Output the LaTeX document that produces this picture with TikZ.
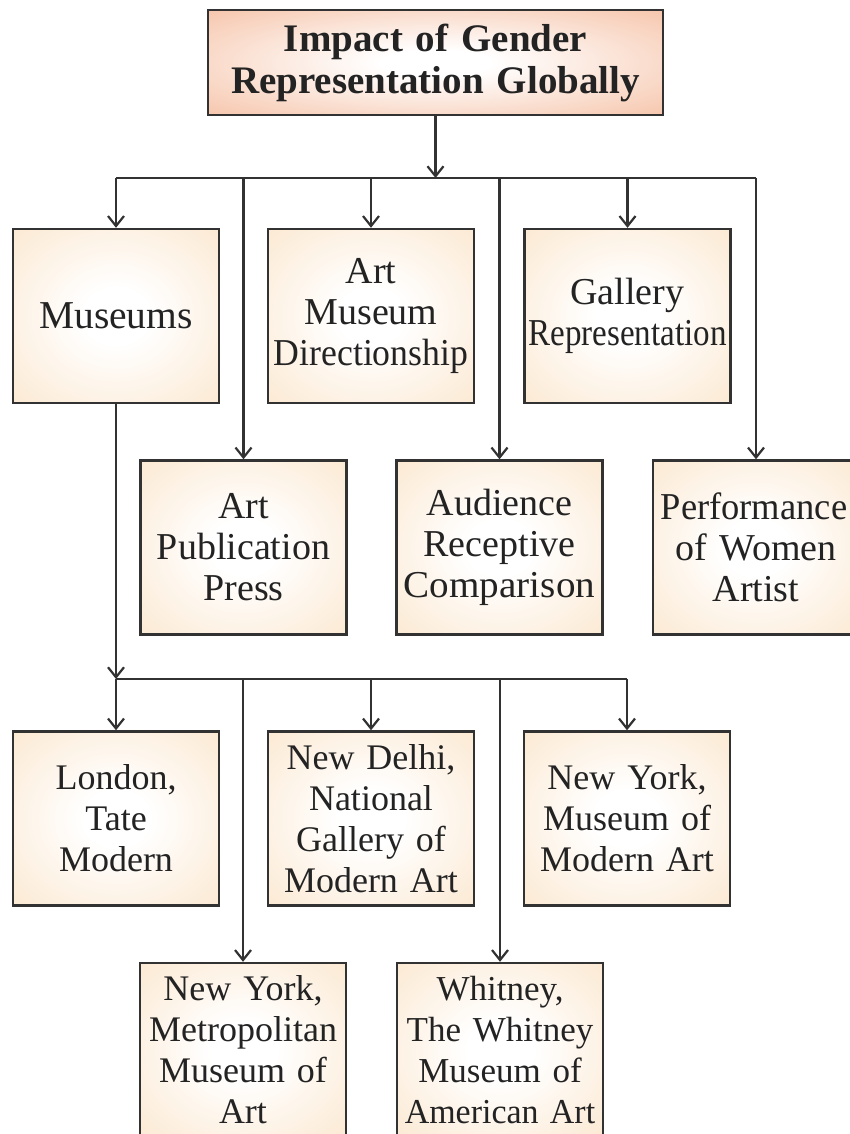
\documentclass[tikz,border=0pt]{standalone}
\usepackage{fontspec}
\setmainfont{Liberation Serif}
\usetikzlibrary{arrows.meta}
\definecolor{peach}{RGB}{250,222,188}
\definecolor{salmon}{RGB}{242,170,132}
\definecolor{ink}{RGB}{50,50,50}
\pgfdeclareradialshading{boxshade}{\pgfpoint{0bp}{0bp}}{color(0bp)=(white); color(8bp)=(white); color(50bp)=(peach); color(75bp)=(peach)}
\pgfdeclareradialshading{titleshade}{\pgfpoint{0bp}{0bp}}{color(0bp)=(white); color(6bp)=(white); color(50bp)=(salmon); color(75bp)=(salmon)}
\tikzset{
  box/.style={draw=ink, line width=2.4pt, shading=boxshade, minimum width=206pt, minimum height=174pt,
    text width=204pt, align=center, inner sep=0pt, text=ink!70!black,
    font=\fontsize{36}{41}\selectfont},
  bigbox/.style={box, font=\fontsize{38}{41}\selectfont},
  titlebox/.style={draw=ink, line width=2.4pt, shading=titleshade, minimum width=455pt, minimum height=105pt,
    text width=450pt, align=center, inner sep=0pt, text=ink!70!black,
    font=\fontsize{39}{42}\selectfont\bfseries},
  conn/.style={draw=ink, line width=2.2pt},
  arr/.style={conn, -{Straight Barb[length=10pt,width=16pt,line width=2.2pt]}}
}
\begin{document}
\begin{tikzpicture}[x=1pt,y=-1pt]
\useasboundingbox (0,0) rectangle (850,1134);
\clip (0,0) rectangle (850,1134);
\node[titlebox] (title) at (435.5,62.5) {Impact of Gender\\Representation Globally};
% row 1
\node[box, font=\fontsize{39.5}{41}\selectfont] (museums) at (116,316) {Museums};
\node[bigbox] (artmus) at (371,316) {Art\\Museum\\\scalebox{0.94}[1]{Directionship}};
\node[bigbox] (gallery) at (627.5,316) {Gallery\\\scalebox{0.87}[1]{Representation}};
% row 2
\node[bigbox] (artpub) at (243.5,547.5) {Art\\Publication\\Press};
\node[bigbox] (audience) at (499.5,547.5) {Audience\\Receptive\\\scalebox{1.03}[1]{Comparison}};
\node[bigbox] (perf) at (756,547.5) {\hspace*{-4pt}\scalebox{0.96}[1]{Performance}\\of Women\\Artist};
% row 3
\node[box] (london) at (116,818.5) {London,\\Tate\\Modern};
\node[box] (delhi) at (371,818.5) {New Delhi,\\National\\Gallery of\\Modern Art};
\node[box] (moma) at (627,818.5) {New York,\\Museum of\\Modern Art};
% row 4
\node[box] (met) at (243,1050) {New York,\\Metropolitan\\Museum of\\Art};
\node[box, font=\fontsize{35}{41}\selectfont] (whitney) at (500,1050) {Whitney,\\The Whitney\\Museum of\\\scalebox{0.97}[1]{American Art}};
% connectors level 1
\coordinate (bar1) at (435.5,178);
\draw[arr] (title.south) -- (bar1);
\draw[conn] (bar1 -| museums.north) -- (bar1 -| perf.north);
\draw[arr] (bar1 -| museums.north) -- (museums.north);
\draw[arr] (bar1 -| artpub.north) -- (artpub.north);
\draw[arr] (bar1 -| artmus.north) -- (artmus.north);
\draw[arr] (bar1 -| audience.north) -- (audience.north);
\draw[arr] (bar1 -| gallery.north) -- (gallery.north);
\draw[arr] (bar1 -| perf.north) -- (perf.north);
% connectors level 2
\coordinate (bar2) at (116,679);
\draw[arr] (museums.south) -- (bar2);
\draw[conn] (bar2) -- (bar2 -| moma.north);
\draw[arr] (bar2) -- (london.north);
\draw[arr] (bar2 -| met.north) -- (met.north);
\draw[arr] (bar2 -| delhi.north) -- (delhi.north);
\draw[arr] (bar2 -| whitney.north) -- (whitney.north);
\draw[arr] (bar2 -| moma.north) -- (moma.north);
\end{tikzpicture}
\end{document}
